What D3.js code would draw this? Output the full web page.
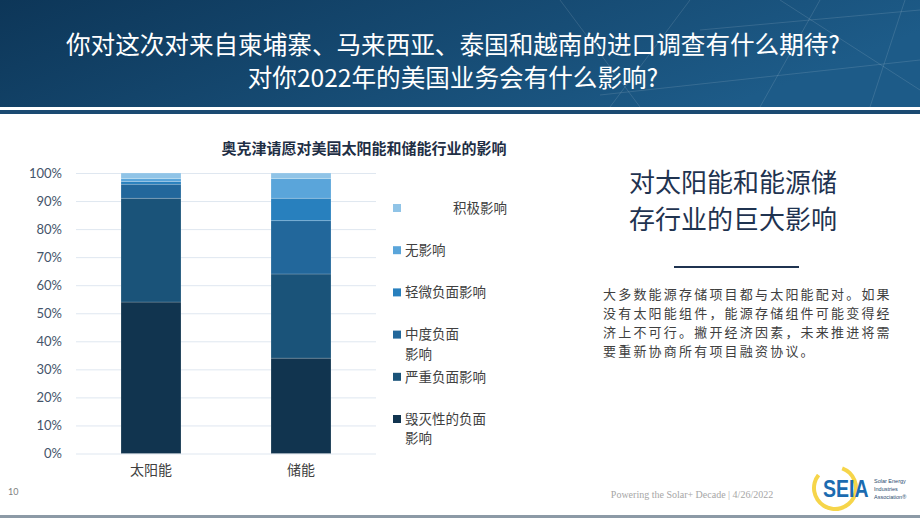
<!DOCTYPE html>
<html>
<head>
<meta charset="utf-8">
<script src="https://cdn.jsdelivr.net/npm/d3@7"></script>
<style>
  body { margin: 0; background: #fff; }
  svg { display: block; font-family: "Noto Sans CJK SC", "Noto Sans", sans-serif; }
</style>
</head>
<body>
<svg id="slide" width="920" height="518"></svg>
<script>
// chart values (percent of respondents)
var categories = ["太阳能", "储能"];
var seriesKeys = ["毁灭性的负面影响", "严重负面影响", "中度负面影响", "轻微负面影响", "无影响", "积极影响"];
var destructive = [54, 34];
var severe = [37, 30];
var moderate = [5, 19];
var slight = [1, 8];
var noImpact = [1, 7];
var positive = [2, 2];
var yTicks = [0, 10, 20, 30, 40, 50, 60, 70, 80, 90, 100];
var legendLabels = [["积极影响"], ["无影响"], ["轻微负面影响"], ["中度负面", "影响"], ["严重负面影响"], ["毁灭性的负面", "影响"]];
var headerLines = ["你对这次对来自柬埔寨、马来西亚、泰国和越南的进口调查有什么期待?", "对你2022年的美国业务会有什么影响?"];
var chartTitle = "奥克津请愿对美国太阳能和储能行业的影响";
var sideTitle = ["对太阳能和能源储", "存行业的巨大影响"];
var sideBody = ["大多数能源存储项目都与太阳能配对。如果", "没有太阳能组件，能源存储组件可能变得经", "济上不可行。撇开经济因素，未来推进将需", "要重新协商所有项目融资协议。"];

var svg = d3.select("#slide");

// ---- header band
var defs = svg.append("defs");
var grad = defs.append("linearGradient").attr("id", "hdr").attr("x1", "0").attr("x2", "1").attr("y1", "0").attr("y2", "0.3");
grad.append("stop").attr("offset", "0").attr("stop-color", "#0d3658");
grad.append("stop").attr("offset", "1").attr("stop-color", "#1d5b88");
svg.append("rect").attr("x", 0).attr("y", 0).attr("width", 920).attr("height", 107).attr("fill", "url(#hdr)");
// faint network lines on the right
var net = svg.append("g").attr("stroke", "#ffffff").attr("stroke-opacity", 0.12).attr("stroke-width", 1);
[[560, 0, 640, 107], [690, 0, 610, 107], [820, 0, 760, 107], [905, 0, 870, 107], [700, 30, 920, 10], [600, 95, 920, 60], [780, 0, 920, 90]].forEach(function (l) {
    net.append("line").attr("x1", l[0]).attr("y1", l[1]).attr("x2", l[2]).attr("y2", l[3]);
});
svg.append("rect").attr("x", 0).attr("y", 107).attr("width", 920).attr("height", 3).attr("fill", "#ffffff");
svg.append("rect").attr("x", 0).attr("y", 110).attr("width", 920).attr("height", 4).attr("fill", "#1b4a72");

svg.append("g").selectAll("text")
    .data(headerLines)
    .enter().append("text")
    .attr("x", 453)
    .attr("y", function (d, i) { return 45 + i * 33; })
    .attr("dy", "0.35em")
    .attr("text-anchor", "middle")
    .attr("fill", "#ffffff")
    .attr("font-size", 24.6)
    .text(function (d) { return d; });

// ---- chart
var margin = { top: 173, left: 76 },
    width = 300,
    height = 280.5;

var g = svg.append("g").attr("transform", "translate(" + margin.left + "," + margin.top + ")");

var x = d3.scaleBand().domain(categories).range([0, width]).paddingInner(0.6).paddingOuter(0.3);
var y = d3.scaleLinear().domain([0, 100]).range([height, 0]);
var z = d3.scaleOrdinal().domain(seriesKeys)
    .range(["#11344f", "#1a5379", "#22679b", "#2880be", "#5aa5da", "#90c4e7"]);

var data = categories.map(function (c, i) {
    return {
        cat: c,
        "毁灭性的负面影响": destructive[i],
        "严重负面影响": severe[i],
        "中度负面影响": moderate[i],
        "轻微负面影响": slight[i],
        "无影响": noImpact[i],
        "积极影响": positive[i]
    };
});

g.append("g")
    .attr("class", "grid")
    .call(d3.axisLeft(y).tickValues(yTicks).tickSize(-width).tickFormat(""))
    .call(function (a) {
        a.select(".domain").remove();
        a.selectAll("line").attr("stroke", "#dfe7f0").attr("stroke-width", 1);
    });

g.append("g")
    .selectAll("g")
    .data(d3.stack().keys(seriesKeys)(data))
    .enter().append("g")
    .attr("fill", function (d) { return z(d.key); })
    .selectAll("rect")
    .data(function (d) { return d; })
    .enter().append("rect")
    .attr("x", function (d) { return x(d.data.cat); })
    .attr("y", function (d) { return y(d[1]); })
    .attr("height", function (d) { return y(d[0]) - y(d[1]); })
    .attr("width", x.bandwidth())
    .attr("stroke", "#ffffff")
    .attr("stroke-opacity", 0.25)
    .attr("stroke-width", 0.75);

g.append("g")
    .call(d3.axisLeft(y).tickValues(yTicks).tickSize(0).tickPadding(14).tickFormat(function (d) { return d + "%"; }))
    .call(function (a) {
        a.select(".domain").remove();
        a.selectAll("text").attr("fill", "#44546a").style("font-size", "13px").style("font-family", "Lato, sans-serif");
    });

g.append("g")
    .attr("transform", "translate(0," + height + ")")
    .call(d3.axisBottom(x).tickSize(0).tickPadding(12))
    .call(function (a) {
        a.select(".domain").remove();
        a.selectAll("text").attr("fill", "#404040").style("font-size", "14px").style("font-family", "'Noto Sans CJK SC', sans-serif");
    });

svg.append("text")
    .attr("x", 364)
    .attr("y", 149)
    .attr("dy", "0.35em")
    .attr("text-anchor", "middle")
    .attr("font-size", 15)
    .attr("font-weight", "bold")
    .attr("fill", "#1f2f45")
    .text(chartTitle);

// ---- legend
var ly = d3.scalePoint().domain(seriesKeys.slice().reverse()).range([208, 419]);
var legend = svg.append("g")
    .selectAll("g")
    .data(seriesKeys.slice().reverse())
    .enter().append("g")
    .attr("transform", function (d) { return "translate(393," + ly(d) + ")"; });

legend.append("rect")
    .attr("x", 0)
    .attr("y", -4)
    .attr("width", 8)
    .attr("height", 8)
    .attr("fill", z);

legend.append("text")
    .attr("fill", "#404040")
    .attr("font-size", 13.5)
    .each(function (d, i) {
        var t = d3.select(this);
        legendLabels[i].forEach(function (line, j) {
            t.append("tspan")
                .attr("x", i === 0 ? 60 : 12)
                .attr("y", j * 19.5)
                .attr("dy", "0.35em")
                .text(line);
        });
    });

// ---- side text
svg.append("g").selectAll("text")
    .data(sideTitle)
    .enter().append("text")
    .attr("x", 733)
    .attr("y", function (d, i) { return 182.5 + i * 37; })
    .attr("dy", "0.35em")
    .attr("text-anchor", "middle")
    .attr("fill", "#1f3350")
    .attr("font-size", 26)
    .text(function (d) { return d; });

svg.append("line")
    .attr("x1", 674).attr("x2", 799)
    .attr("y1", 267).attr("y2", 267)
    .attr("stroke", "#1f3350").attr("stroke-width", 2);

svg.append("text")
    .attr("fill", "#404040")
    .attr("font-size", 13)
    .attr("letter-spacing", 2.2)
    .selectAll("tspan")
    .data(sideBody)
    .enter().append("tspan")
    .attr("x", 603)
    .attr("y", function (d, i) { return 294.5 + i * 19; })
    .attr("dy", "0.35em")
    .text(function (d) { return d; });

// ---- footer
svg.append("text")
    .attr("x", 8).attr("y", 492).attr("dy", "0.35em")
    .attr("fill", "#7f7f7f")
    .style("font-size", "9px")
    .style("font-family", "Lato, sans-serif")
    .text("10");

svg.append("text")
    .attr("x", 692).attr("y", 494).attr("dy", "0.35em")
    .attr("text-anchor", "middle")
    .attr("fill", "#a6a6a6")
    .style("font-size", "10px")
    .style("font-family", "'Liberation Serif', serif")
    .text("Powering the Solar+ Decade | 4/26/2022");

// logo
var logo = svg.append("g").attr("transform", "translate(835,488)");
logo.append("path")
    .attr("d", d3.arc().innerRadius(19).outerRadius(23).startAngle(0.35).endAngle(2 * Math.PI - 0.9)())
    .attr("fill", "#f6d54a");
logo.append("text")
    .attr("transform", "translate(-12,9) scale(1,1.25)")
    .attr("fill", "#1b6bb0")
    .style("font-family", "'Liberation Sans', Arial, sans-serif")
    .style("font-weight", "bold")
    .style("font-size", "19.5px")
    .text("SEIA");
logo.append("text")
    .attr("fill", "#2a4b6e")
    .style("font-family", "'Liberation Sans', Arial, sans-serif")
    .style("font-size", "5.5px")
    .selectAll("tspan")
    .data(["Solar Energy", "Industries", "Association®"])
    .enter().append("tspan")
    .attr("x", 39)
    .attr("y", function (d, i) { return -7 + i * 8; })
    .attr("dy", "0.35em")
    .text(function (d) { return d; });

svg.append("rect").attr("x", 0).attr("y", 515).attr("width", 920).attr("height", 3).attr("fill", "#8c9aa6");
</script>
</body>
</html>
